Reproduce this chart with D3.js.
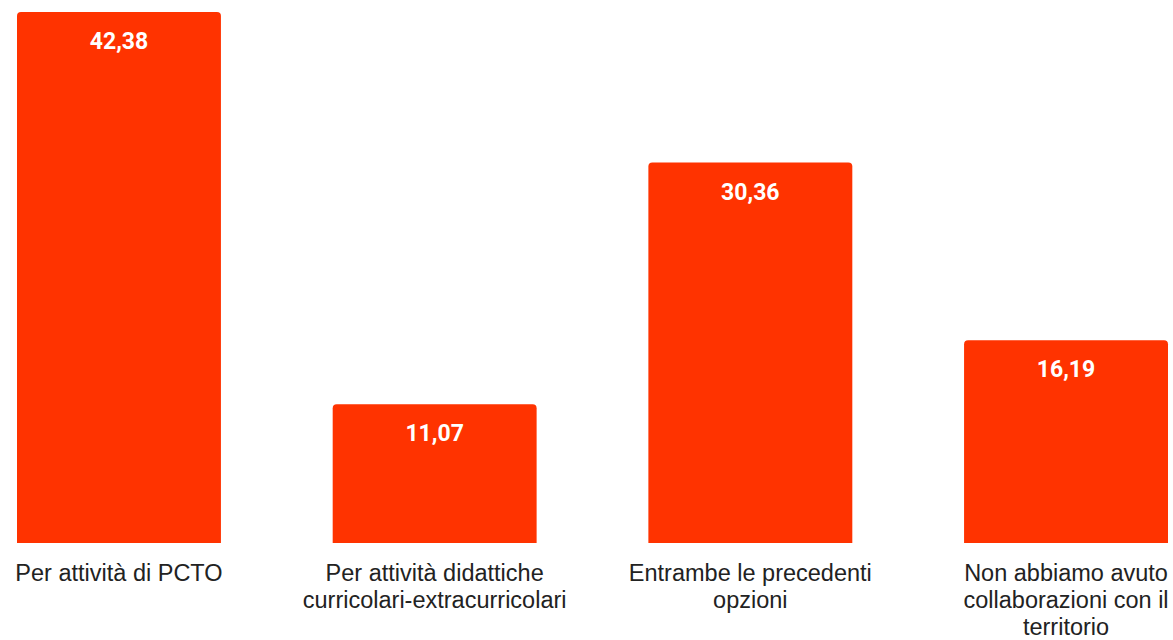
<!DOCTYPE html>
<html><head><meta charset="utf-8">
<script src="https://cdn.jsdelivr.net/npm/d3@7"></script>
<style>html,body{margin:0;padding:0;background:#fff;}</style>
</head><body>
<svg id="chart" width="1173" height="640"></svg>
<script>
const categories = [
  ["Per attività di PCTO"],
  ["Per attività didattiche", "curricolari-extracurricolari"],
  ["Entrambe le precedenti", "opzioni"],
  ["Non abbiamo avuto", "collaborazioni con il", "territorio"]
];
const values = [42.38, 11.07, 30.36, 16.19];
const valueLabels = ["42,38", "11,07", "30,36", "16,19"];

const svg = d3.select("#chart");
const x = d3.scaleBand().domain(d3.range(values.length)).range([17, 1168]).paddingInner(0.354).paddingOuter(0);
const y = d3.scaleLinear().domain([0, d3.max(values)]).range([543, 12]);
const r = 4;
function barPath(x0, y0, w, h) {
  return `M${x0},${y0 + h}V${y0 + r}Q${x0},${y0} ${x0 + r},${y0}H${x0 + w - r}Q${x0 + w},${y0} ${x0 + w},${y0 + r}V${y0 + h}Z`;
}
const g = svg.selectAll("g.bar").data(values).join("g").attr("class", "bar");
g.append("path")
  .attr("d", (d, i) => barPath(x(i), y(d), x.bandwidth(), y(0) - y(d)))
  .attr("fill", "#ff3300");
g.append("text")
  .attr("x", (d, i) => x(i) + x.bandwidth() / 2)
  .attr("y", d => y(d) + 37)
  .attr("text-anchor", "middle")
  .attr("font-family", "Roboto, sans-serif")
  .attr("font-weight", "bold")
  .attr("font-size", 23)
  .attr("fill", "#fff")
  .text((d, i) => valueLabels[i]);
const lab = svg.selectAll("text.cat").data(categories).join("text").attr("class", "cat")
  .attr("x", (d, i) => x(i) + x.bandwidth() / 2)
  .attr("y", 581)
  .attr("text-anchor", "middle")
  .attr("font-family", "'Liberation Sans', Arial, sans-serif")
  .attr("font-size", 23.5)
  .attr("fill", "#222");
lab.selectAll("tspan").data(d => d).join("tspan")
  .attr("x", function () { return d3.select(this.parentNode).attr("x"); })
  .attr("dy", (d, j) => j === 0 ? 0 : 27)
  .text(d => d);
</script>
</body></html>
